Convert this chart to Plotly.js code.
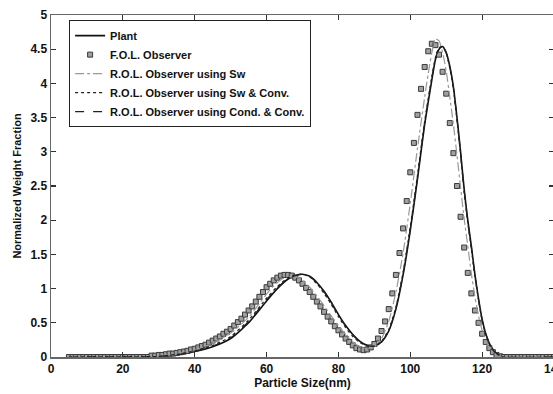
<!DOCTYPE html>
<html>
<head>
<meta charset="utf-8">
<script src="https://cdn.plot.ly/plotly-3.0.1.min.js"></script>
<style>
html, body { margin: 0; padding: 0; overflow: hidden; background: #fff; }
#chart { width: 556px; height: 394px; }
</style>
</head>
<body>
<div id="chart"></div>
<script>
// Plant and R.O.L. (converged) observers share this x grid
const plantX = [5, 28, 30, 35, 40, 45, 50, 55, 60, 63, 66, 68, 70, 72, 74, 76, 78, 80, 82, 84, 86, 88, 90, 92, 94, 96, 98, 100, 102, 104, 106, 107, 108, 109, 110, 111, 112, 113, 114, 115, 116, 117, 118, 119, 120, 121, 122, 123, 124, 125, 126, 140];
const plantY = [0, 0.005, 0.01, 0.03, 0.08, 0.15, 0.27, 0.50, 0.82, 1.00, 1.14, 1.19, 1.21, 1.18, 1.09, 0.96, 0.80, 0.62, 0.46, 0.33, 0.23, 0.17, 0.16, 0.22, 0.38, 0.70, 1.20, 1.85, 2.60, 3.40, 4.05, 4.35, 4.50, 4.54, 4.45, 4.25, 3.95, 3.50, 3.00, 2.45, 2.00, 1.62, 1.20, 0.85, 0.55, 0.34, 0.20, 0.11, 0.05, 0.02, 0, 0];
const swConvY = [0, 0.005, 0.01, 0.04, 0.09, 0.17, 0.30, 0.54, 0.86, 1.03, 1.16, 1.20, 1.21, 1.17, 1.07, 0.93, 0.77, 0.59, 0.43, 0.30, 0.21, 0.16, 0.16, 0.23, 0.40, 0.73, 1.24, 1.90, 2.66, 3.45, 4.10, 4.38, 4.52, 4.54, 4.44, 4.22, 3.92, 3.46, 2.96, 2.41, 1.96, 1.58, 1.17, 0.83, 0.53, 0.33, 0.19, 0.10, 0.05, 0.02, 0, 0];
const condConvY = [0, 0.005, 0.01, 0.03, 0.08, 0.16, 0.28, 0.52, 0.84, 1.01, 1.15, 1.19, 1.21, 1.18, 1.08, 0.95, 0.79, 0.61, 0.45, 0.32, 0.22, 0.17, 0.16, 0.22, 0.39, 0.71, 1.22, 1.87, 2.62, 3.42, 4.07, 4.36, 4.51, 4.54, 4.45, 4.24, 3.94, 3.48, 2.98, 2.43, 1.98, 1.60, 1.19, 0.84, 0.54, 0.34, 0.20, 0.11, 0.05, 0.02, 0, 0];

// R.O.L. observer using Sw
const swX = [5, 28, 30, 35, 40, 45, 50, 55, 58, 60, 62, 64, 66, 67, 68, 70, 72, 74, 76, 78, 80, 82, 84, 86, 88, 90, 92, 94, 96, 98, 100, 102, 104, 105, 106, 107, 108, 109, 110, 111, 112, 113, 114, 115, 116, 117, 118, 119, 120, 121, 122, 123, 124, 125, 140];
const swY = [0, 0.005, 0.02, 0.05, 0.10, 0.20, 0.35, 0.58, 0.78, 0.92, 1.04, 1.13, 1.18, 1.19, 1.18, 1.12, 1.02, 0.89, 0.75, 0.60, 0.46, 0.33, 0.22, 0.15, 0.12, 0.15, 0.27, 0.52, 0.95, 1.52, 2.25, 3.05, 3.80, 4.15, 4.45, 4.65, 4.62, 4.45, 4.18, 3.80, 3.40, 2.95, 2.48, 2.02, 1.62, 1.22, 0.88, 0.60, 0.39, 0.24, 0.13, 0.06, 0.02, 0, 0];

// F.O.L. observer (square markers)
const folX = [5, 6, 7, 8, 9, 10, 11, 12, 13, 14, 15, 16, 17, 18, 19, 20, 21, 22, 23, 24, 25, 26, 27,
  28, 29, 30, 31, 32, 33, 34, 35, 36, 37, 38, 39, 40, 41, 42, 43, 44, 45, 46, 47, 48, 49, 50,
  51, 52, 53, 54, 55, 56, 57, 58, 59, 60, 61, 62, 63, 64, 65, 66, 67, 68, 69, 70,
  71, 72, 73, 74, 75, 76, 77, 78, 79, 80, 81, 82, 83, 84, 85, 86, 87, 88, 89, 90,
  91, 92, 93, 94, 95, 96, 97, 98, 99, 100, 101, 102, 103, 104, 105, 106, 107, 108, 109, 110,
  111, 112, 113, 114, 115, 116, 117, 118, 119, 120, 121, 122, 123, 124, 125,
  126, 127, 128, 129, 130, 131, 132, 133, 134, 135, 136, 137, 138, 139, 140];
const folY = [0, 0, 0, 0, 0, 0, 0, 0, 0, 0, 0, 0, 0, 0, 0, 0, 0, 0, 0, 0, 0, 0, 0,
  0.02, 0.02, 0.03, 0.03, 0.04, 0.05, 0.05, 0.06, 0.07, 0.08, 0.09, 0.11, 0.12, 0.14, 0.16, 0.18, 0.21, 0.24, 0.27, 0.30, 0.34, 0.37, 0.41,
  0.46, 0.51, 0.56, 0.62, 0.68, 0.74, 0.81, 0.88, 0.95, 1.02, 1.07, 1.12, 1.16, 1.19, 1.20, 1.20, 1.19, 1.16, 1.12, 1.07,
  1.01, 0.95, 0.88, 0.81, 0.74, 0.66, 0.59, 0.52, 0.45, 0.39, 0.33, 0.27, 0.22, 0.17, 0.13, 0.11, 0.10, 0.11, 0.14, 0.19,
  0.27, 0.38, 0.52, 0.70, 0.93, 1.20, 1.52, 1.88, 2.28, 2.70, 3.13, 3.54, 3.92, 4.24, 4.47, 4.58, 4.56, 4.42, 4.17, 3.85,
  3.42, 2.98, 2.50, 2.05, 1.60, 1.23, 0.93, 0.68, 0.50, 0.34, 0.22, 0.13, 0.07, 0.03, 0.01,
  0, 0, 0, 0, 0, 0, 0, 0, 0, 0, 0, 0, 0, 0, 0];

const xTicks = [0, 20, 40, 60, 80, 100, 120, 140];
const yTicks = [0, 0.5, 1, 1.5, 2, 2.5, 3, 3.5, 4, 4.5, 5];
const names = ['Plant', 'F.O.L. Observer', 'R.O.L. Observer using Sw', 'R.O.L. Observer using Sw &amp; Conv.', 'R.O.L. Observer using Cond. &amp; Conv.'];

const FONT = 'Liberation Sans Narrow, Arial Narrow, Liberation Sans, Arial, sans-serif';

const traces = [
  { x: plantX, y: plantY, name: names[0], mode: 'lines', line: { color: '#111', width: 1.6, shape: 'spline', smoothing: 0.6 } },
  { x: folX, y: folY, name: names[1], mode: 'markers', marker: { symbol: 'square', size: 5, color: '#a0a0a0', line: { color: '#3a3a3a', width: 1 } } },
  { x: swX, y: swY, name: names[2], mode: 'lines', line: { color: '#999', width: 1.2, dash: 'dashdot', shape: 'spline', smoothing: 0.6 } },
  { x: plantX, y: swConvY, name: names[3], mode: 'lines', line: { color: '#222', width: 1.2, dash: 'dot', shape: 'spline', smoothing: 0.6 } },
  { x: plantX, y: condConvY, name: names[4], mode: 'lines', line: { color: '#222', width: 1.2, dash: 'dash', shape: 'spline', smoothing: 0.6 } }
];

const axisCommon = {
  showline: true, linecolor: '#666', linewidth: 1.5, mirror: 'ticks',
  ticks: 'inside', ticklen: 5, tickwidth: 1.2, tickcolor: '#333',
  showgrid: false, zeroline: false, ticklabeloverflow: 'allow',
  tickfont: { family: FONT, size: 12, color: '#111', weight: 'bold' }
};

const layout = {
  width: 556, height: 394,
  margin: { l: 51, r: 2, t: 15, b: 37 },
  paper_bgcolor: '#fff', plot_bgcolor: '#fff',
  showlegend: true,
  legend: {
    x: 0.036, y: 0.985, xanchor: 'left', yanchor: 'top',
    bgcolor: '#fff', bordercolor: '#222', borderwidth: 1,
    font: { family: FONT, size: 11, color: '#111', weight: 'bold' },
    tracegroupgap: 0, itemwidth: 30
  },
  xaxis: Object.assign({}, axisCommon, {
    range: [0, 140], tickvals: xTicks, ticktext: xTicks.map(String),
    title: { text: 'Particle Size(nm)', font: { family: FONT, size: 12, color: '#111', weight: 'bold' }, standoff: 2 }
  }),
  yaxis: Object.assign({}, axisCommon, {
    range: [0, 5], tickvals: yTicks, ticktext: yTicks.map(String),
    title: { text: 'Normalized Weight Fraction', font: { family: FONT, size: 11, color: '#111', weight: 'bold' }, standoff: 6 }
  })
};

Plotly.newPlot('chart', traces, layout, { displayModeBar: false, staticPlot: true });
</script>
</body>
</html>
